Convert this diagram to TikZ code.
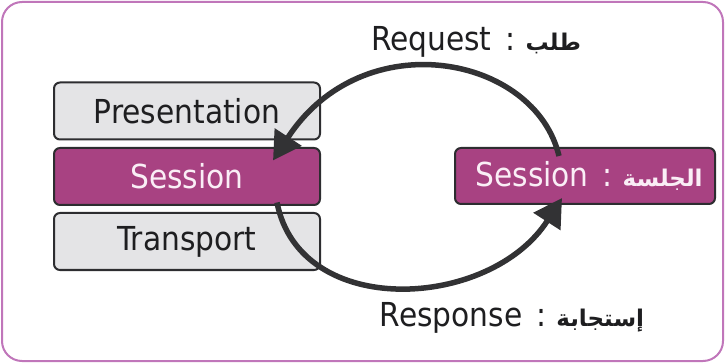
\documentclass[tikz,border=0pt]{standalone}
\usepackage{fontspec}
\setmainfont{DejaVu Sans Condensed}
\newfontfamily\arabicfont[Script=Arabic]{DejaVu Sans}
\TeXXeTstate=1
\usetikzlibrary{arrows.meta}
\definecolor{framec}{RGB}{192,118,186}
\definecolor{magc}{RGB}{168,66,130}
\definecolor{grayc}{RGB}{228,228,230}
\definecolor{edgec}{RGB}{45,45,48}
\definecolor{arrc}{RGB}{50,50,52}
\definecolor{txtc}{RGB}{30,30,32}
\definecolor{wtxt}{RGB}{250,238,246}
\newcommand{\artxt}[1]{{\arabicfont\bfseries\fontsize{23}{25}\selectfont\beginR #1\endR}}
\tikzset{
  layer/.style={draw=edgec, line width=2pt, rounded corners=6pt, minimum width=266pt, minimum height=57pt, inner sep=0pt, font=\fontsize{33}{36}\selectfont},
  graybox/.style={layer, fill=grayc, text=txtc},
  magbox/.style={layer, fill=magc, text=wtxt},
  flow/.style={draw=arrc, line width=5.5pt, -{Triangle[length=28pt,width=31pt]}},
  lbl/.style={text=txtc, font=\fontsize{33}{36}\selectfont, inner sep=0pt}
}
\begin{document}
\begin{tikzpicture}[x=1pt,y=-1pt]
\useasboundingbox (0,0) rectangle (725,363);
\draw[framec, line width=2pt, rounded corners=20pt] (2,2) rectangle (723,361);
\node[graybox] (pres) at (187,111) {Presentation};
\node[magbox] (sess) at (187,176.5) {Session};
\node[graybox] (trans) at (187,241.5) {Transport};
\node[magbox, minimum width=260pt, minimum height=56pt] (rsess) at (585,176) {\hspace{8pt}Session\hspace{14pt}:\hspace{10pt}\artxt{الجلسة}};
\node[lbl] (req) at (476,42) {Request\hspace{14pt}:\hspace{10pt}\artxt{طلب}};
\node[lbl] (resp) at (512,318) {Response\hspace{14pt}:\hspace{10pt}\artxt{إستجابة}};
\coordinate (reqs) at ([xshift=-26pt,yshift=-9pt]rsess.north);
\coordinate (reqe) at ([xshift=86pt,yshift=16pt]sess.center);
\coordinate (ress) at ([xshift=90pt,yshift=-26pt]sess.center);
\coordinate (rese) at ([xshift=-23pt,yshift=-22pt]rsess.center);
\draw[flow] (reqs) .. controls (535,55) and (363,22) .. (reqe);
\draw[flow] (ress) .. controls (300,320) and (490,310) .. (rese);
\end{tikzpicture}
\end{document}
